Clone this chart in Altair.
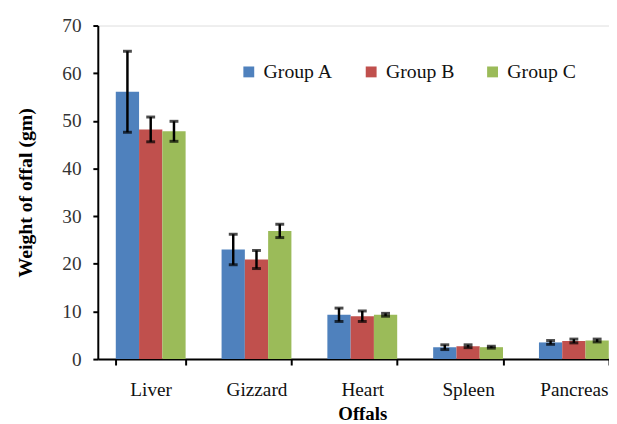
import altair as alt
import pandas as pd

offals = ["Liver", "Gizzard", "Heart", "Spleen", "Pancreas"]
groups = ["Group A", "Group B", "Group C"]
colors = ["#4F81BD", "#C0504D", "#9BBB59"]

group_a = [56.1, 23.0, 9.3, 2.5, 3.5]
group_b = [48.2, 20.9, 9.0, 2.7, 3.8]
group_c = [47.8, 26.9, 9.3, 2.5, 3.9]
err_a = [8.5, 3.2, 1.4, 0.5, 0.4]
err_b = [2.6, 1.9, 1.1, 0.3, 0.4]
err_c = [2.1, 1.4, 0.3, 0.2, 0.3]

rows = []
for g, vals, errs in zip(groups, [group_a, group_b, group_c], [err_a, err_b, err_c]):
    for o, v, e in zip(offals, vals, errs):
        rows.append({"offal": o, "group": g, "value": v, "low": v - e, "high": v + e})
df = pd.DataFrame(rows)

FONT = "Liberation Serif"

x_enc = alt.X(
    "offal:N",
    sort=offals,
    scale=alt.Scale(range=[0, 536], paddingInner=0.34, paddingOuter=0.17),
    axis=alt.Axis(
        title="Offals",
        labelAngle=0,
        tickBand="extent",
        domainColor="black",
        domainWidth=2,
        tickColor="black",
        tickWidth=2,
        tickSize=6,
        labelPadding=16,
        labelFont=FONT,
        labelFontSize=19.5,
        labelColor="#111",
        titleFont=FONT,
        titleFontSize=19,
        titleFontWeight="bold",
        titleColor="black",
        titlePadding=6,
        titleX=268,
    ),
)
xoff = alt.XOffset("group:N", sort=groups, scale=alt.Scale(paddingInner=0, paddingOuter=0))

y_scale = alt.Scale(domain=[0, 70], nice=False)

bars = alt.Chart(df).mark_bar().encode(
    x=x_enc,
    xOffset=xoff,
    y=alt.Y(
        "value:Q",
        scale=y_scale,
        axis=alt.Axis(
            title="Weight of offal (gm)",
            values=[0, 10, 20, 30, 40, 50, 60, 70],
            grid=False,
            domainColor="black",
            domainWidth=2,
            tickColor="black",
            tickWidth=2,
            tickSize=5,
            labelPadding=12,
            labelFont=FONT,
            labelFontSize=19.5,
            labelColor="#333",
            titleFont=FONT,
            titleFontSize=20,
            titleFontWeight="bold",
            titleColor="black",
            titlePadding=27,
        ),
    ),
    color=alt.Color(
        "group:N",
        sort=groups,
        scale=alt.Scale(domain=groups, range=colors),
        legend=alt.Legend(
            title=None,
            orient="none",
            direction="horizontal",
            legendX=143,
            legendY=37,
            symbolType="square",
            symbolSize=121,
            symbolStrokeWidth=0,
            symbolOpacity=1,
            labelFont=FONT,
            labelFontSize=20,
            labelColor="#111",
            labelOffset=5,
            columnPadding=28,
        ),
    ),
)

rules = alt.Chart(df).mark_rule(color="black", strokeWidth=2.5).encode(
    x=alt.X("offal:N", sort=offals),
    xOffset=xoff,
    y=alt.Y("low:Q", scale=y_scale),
    y2="high:Q",
)
cap_lo = alt.Chart(df).mark_tick(color="black", thickness=3, size=9).encode(
    x=alt.X("offal:N", sort=offals),
    xOffset=xoff,
    y=alt.Y("low:Q", scale=y_scale),
)
cap_hi = alt.Chart(df).mark_tick(color="black", thickness=3, size=9).encode(
    x=alt.X("offal:N", sort=offals),
    xOffset=xoff,
    y=alt.Y("high:Q", scale=y_scale),
)

chart = (
    alt.layer(bars, rules, cap_lo, cap_hi)
    .properties(
        width=518,
        height=338,
        autosize=alt.AutoSizeParams(type="none"),
        padding={"left": 91, "top": 15, "right": 0, "bottom": 63},
    )
    .configure_view(stroke=None)
    .configure(background="white")
)

chart.save("out.html", embed_options={"renderer": "svg", "actions": False})
